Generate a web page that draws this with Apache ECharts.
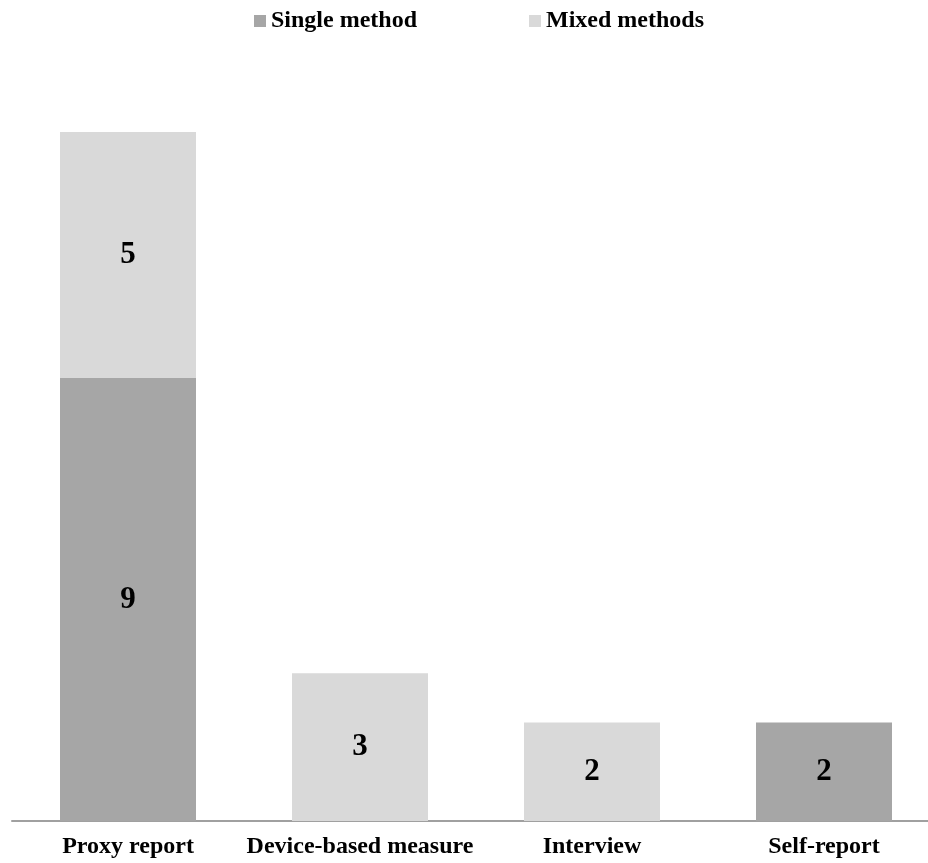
<!DOCTYPE html>
<html>
<head>
<meta charset="utf-8">
<script src="https://cdn.jsdelivr.net/npm/echarts@6/dist/echarts.min.js"></script>
<style>html,body{margin:0;padding:0;background:#fff;overflow:hidden;}#chart{width:940px;height:863px;}</style>
</head>
<body>
<div id="chart"></div>
<script>
const categories = ['Proxy report', 'Device-based measure', 'Interview', 'Self-report'];
const singleMethod = [9, 0, 0, 2];
const mixedMethods = [5, 3, 2, 0];
const seriesNames = ['Single method', 'Mixed methods'];

const FONT = '"Liberation Serif", "Times New Roman", serif';
const chart = echarts.init(document.getElementById('chart'));
const labelCfg = {
  show: true,
  position: 'inside',
  fontFamily: FONT,
  fontWeight: 'bold',
  fontSize: 31,
  color: '#000',
  formatter: p => (p.value ? String(p.value) : '')
};
chart.setOption({
  animation: false,
  backgroundColor: '#fff',
  legend: {
    top: 4,
    left: 249,
    itemGap: 112,
    itemWidth: 12,
    itemHeight: 12,
    icon: 'rect',
    textStyle: { fontFamily: FONT, fontWeight: 'bold', fontSize: 24, color: '#000' },
    data: seriesNames
  },
  grid: { left: 12, right: 0, top: 132, bottom: 42, containLabel: false },
  xAxis: {
    type: 'category',
    data: categories,
    axisLine: { show: true, lineStyle: { color: '#a0a0a0', width: 2 } },
    axisTick: { show: false },
    axisLabel: { fontFamily: FONT, fontWeight: 'bold', fontSize: 24, color: '#000', margin: 14, interval: 0 }
  },
  yAxis: {
    type: 'value',
    min: 0,
    max: 14,
    show: false,
    splitLine: { show: false }
  },
  series: [
    {
      name: seriesNames[0],
      type: 'bar',
      stack: 'total',
      barWidth: 136,
      itemStyle: { color: '#a6a6a6' },
      label: labelCfg,
      data: singleMethod
    },
    {
      name: seriesNames[1],
      type: 'bar',
      stack: 'total',
      barWidth: 136,
      itemStyle: { color: '#d9d9d9' },
      label: labelCfg,
      data: mixedMethods
    }
  ]
});
</script>
</body>
</html>
